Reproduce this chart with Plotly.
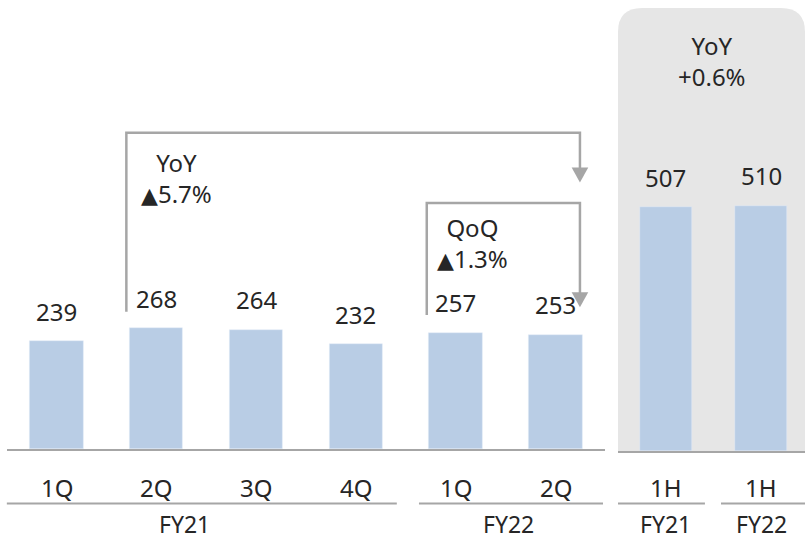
import plotly.graph_objects as go

# ---- data -------------------------------------------------------------
quarters = ["1Q", "2Q", "3Q", "4Q", "1Q", "2Q"]
quarter_years = ["FY21", "FY21", "FY21", "FY21", "FY22", "FY22"]
quarter_sales = [239, 268, 264, 232, 257, 253]

halves = ["1H", "1H"]
half_years = ["FY21", "FY22"]
half_sales = [507, 510]

yoy_quarter = "5.7%"
qoq_quarter = "1.3%"
yoy_half = "+0.6%"

# ---- styling ----------------------------------------------------------
W, H = 805, 540
BAR = "#b9cde5"
GREY_LINE = "#a6a6a6"
PANEL = "#e6e6e6"
TEXT = "#262626"
FONT = "Noto Sans"
UP = '<span style="font-family:DejaVu Sans;font-size:22px">▲</span>'


def fx(p):
    return p / W


def fy(p):
    return 1 - p / H


qx = list(range(len(quarters)))
hx = list(range(len(halves)))

fig = go.Figure()

# rounded panel behind the half-year bars
px0, px1, pt, pb, r = fx(618), 1.0, fy(8), fy(451), 24
rx, ry = r / W, r / H
panel_path = (
    f"M {px0},{pb} L {px0},{pt - ry} Q {px0},{pt} {px0 + rx},{pt} "
    f"L {px1 - rx},{pt} Q {px1},{pt} {px1},{pt - ry} L {px1},{pb} Z"
)
shapes = [dict(type="path", path=panel_path, xref="paper", yref="paper",
               fillcolor=PANEL, line=dict(width=0), layer="below")]

fig.add_trace(go.Bar(x=qx, y=quarter_sales, marker_color=BAR, width=0.535,
                     hoverinfo="skip", xaxis="x", yaxis="y"))
fig.add_trace(go.Bar(x=hx, y=half_sales, marker_color=BAR, width=0.55,
                     hoverinfo="skip", xaxis="x2", yaxis="y2"))


# comparison connectors (bar index, offset) -> target bar
def connector(i_from, i_to, off_from, off_to, top, bottom, tip):
    xa = qx[i_from] + off_from
    xb = qx[i_to] + off_to
    fig.add_trace(go.Scatter(x=[xa, xa, xb, xb], y=[bottom, top, top, tip + 20],
                             mode="lines", line=dict(color=GREY_LINE, width=2.5),
                             hoverinfo="skip", xaxis="x", yaxis="y"))
    shapes.append(dict(type="path", xref="x", yref="y",
                       xsizemode="pixel", ysizemode="pixel",
                       xanchor=xb, yanchor=tip,
                       path="M -8.3,15 L 8.3,15 L 0,0 Z",
                       fillcolor=GREY_LINE, line=dict(width=0)))


connector(1, 5, -0.30, 0.245, 700.5, 304, 590.5)
connector(4, 5, -0.29, 0.245, 545, 297, 314)

annotations = []
font_val = dict(family=FONT, size=24, color=TEXT)
font_group = dict(family=FONT, size=23, color=TEXT)


def label(font=font_val, **kw):
    annotations.append(dict(showarrow=False, xanchor="center", yanchor="middle",
                            font=font, **kw))


for x, v in zip(qx, quarter_sales):
    label(x=x, y=v, xref="x", yref="y", text=str(v), yshift=30)
for x, v in zip(hx, half_sales):
    label(x=x, y=v, xref="x2", yref="y2", text=str(v), yshift=30)

for x, q in zip(qx, quarters):
    label(x=x, y=fy(487), xref="x", yref="paper", text=q)
for x, q in zip(hx, halves):
    label(x=x, y=fy(487), xref="x2", yref="paper", text=q)

# fiscal-year groups under the quarter labels: (label, line start, line end, label x)
quarter_groups = [
    (quarter_years[0], -0.5, 3.41, 1.28),
    (quarter_years[4], 3.632, 5.476, 4.53),
]
for name, a, b, lx in quarter_groups:
    shapes.append(dict(type="line", xref="x", yref="paper", x0=a, x1=b,
                       y0=fy(503.5), y1=fy(503.5),
                       line=dict(color=GREY_LINE, width=2)))
    label(x=lx, y=fy(524), xref="x", yref="paper", text=name, font=font_group)

half_groups = [(-0.505, 0.41), (0.579, 1.463)]
for x, name, (a, b) in zip(hx, half_years, half_groups):
    shapes.append(dict(type="line", xref="x2", yref="paper", x0=a, x1=b,
                       y0=fy(503.5), y1=fy(503.5),
                       line=dict(color=GREY_LINE, width=2)))
    label(x=x, y=fy(524), xref="x2", yref="paper", text=name, font=font_group)

# growth call-outs
label(x=fx(176), y=fy(178), xref="paper", yref="paper",
      text="YoY<br>" + UP + yoy_quarter, align="center")
label(x=fx(473), y=fy(243), xref="paper", yref="paper",
      text="QoQ<br>" + UP + qoq_quarter, align="center")
label(x=fx(712), y=fy(61), xref="paper", yref="paper",
      text="YoY<br>" + yoy_half, align="center")

axis_common = dict(showgrid=False, zeroline=False, showticklabels=False,
                   ticks="", fixedrange=True)

fig.update_layout(
    width=W, height=H,
    margin=dict(l=0, r=0, t=0, b=0),
    paper_bgcolor="white",
    plot_bgcolor="rgba(0,0,0,0)",
    showlegend=False,
    bargap=0,
    xaxis=dict(domain=[fx(6.6), fx(605.4)], range=[-0.5, 5.5],
               showline=True, linecolor=GREY_LINE, linewidth=2, **axis_common),
    yaxis=dict(domain=[fy(449), 1], range=[0, 994.5], showline=False,
               **axis_common),
    xaxis2=dict(domain=[fx(618), 1.0], range=[-0.505, 1.463], anchor="y2",
                showline=True, linecolor=GREY_LINE, linewidth=2, **axis_common),
    yaxis2=dict(domain=[fy(451), 1], range=[0, 937.6], anchor="x2",
                showline=False, **axis_common),
    shapes=shapes,
    annotations=annotations,
)

fig.write_html("out.html")
